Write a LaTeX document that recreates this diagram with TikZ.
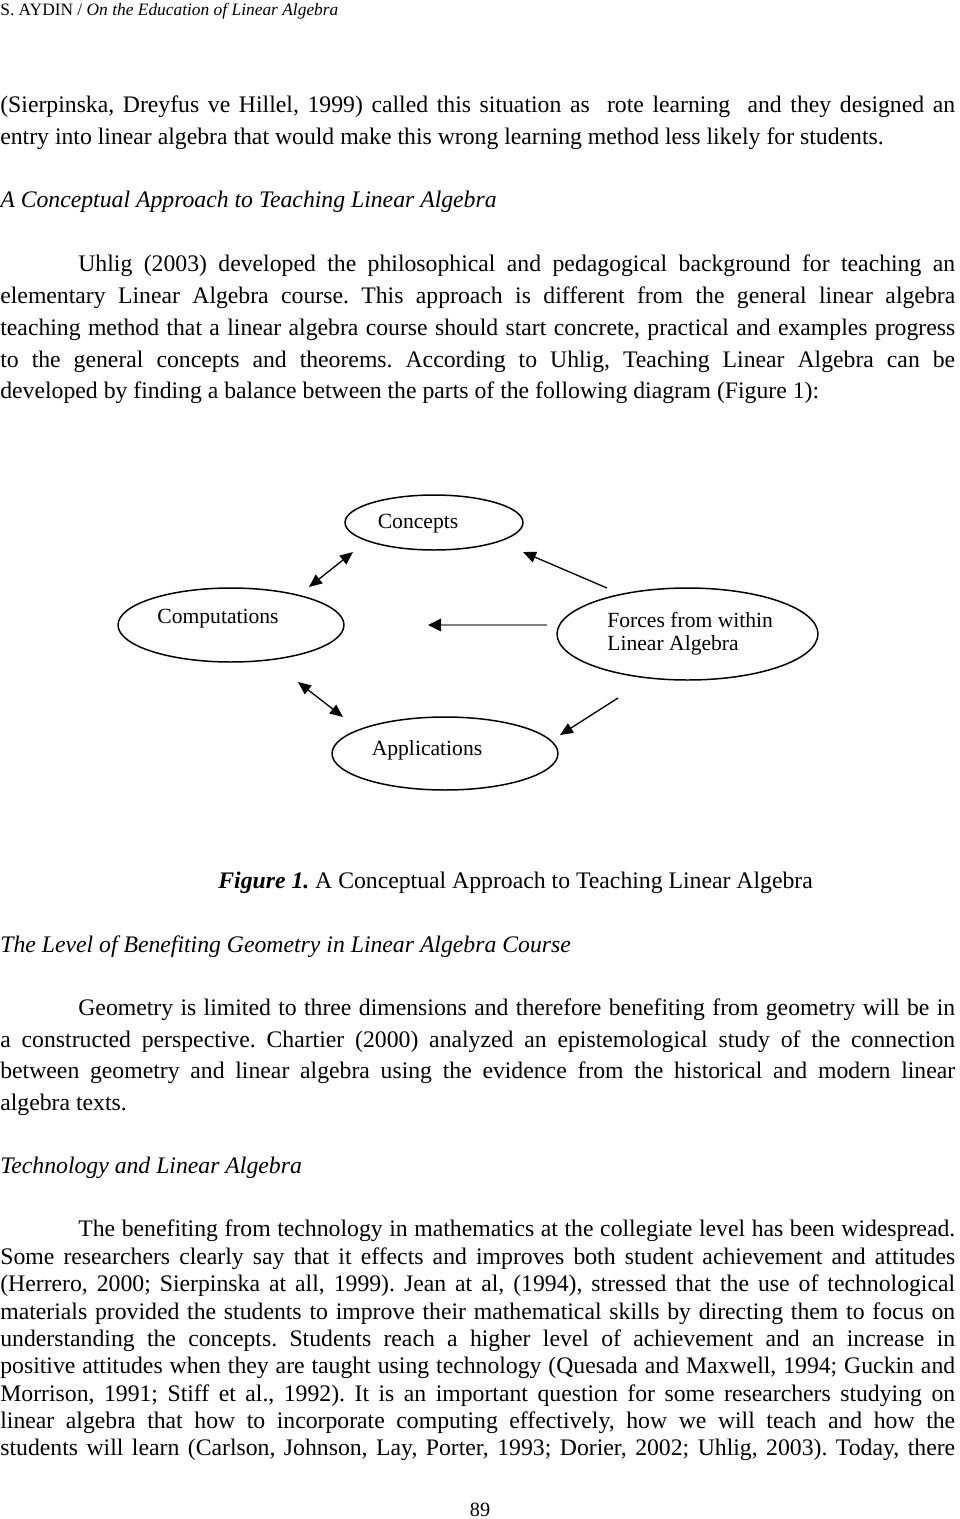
\documentclass[tikz,border=0pt]{standalone}
\usepackage{fontspec}
\setmainfont{Liberation Serif}
\usetikzlibrary{arrows.meta, shapes.geometric}
\frenchspacing

\newcommand{\fullline}[1]{\makebox[19.1cm][s]{#1}}
\newcommand{\indline}[1]{\makebox[17.54cm][s]{#1}}

\begin{document}
\begin{tikzpicture}[x=0.02cm, y=-0.02cm,
    textline/.style={anchor=base west, inner sep=0pt, font=\fontsize{13.5}{15}\selectfont},
    bubble/.style={ellipse, draw=black, line width=0.85pt, inner sep=0pt},
    bubbletext/.style={anchor=base, inner sep=0pt, font=\fontsize{12.3}{14}\selectfont},
    twoway/.style={line width=0.75pt, {Triangle[length=0.26cm, width=0.22cm]}-{Triangle[length=0.26cm, width=0.22cm]}},
    oneway/.style={line width=0.75pt, -{Triangle[length=0.26cm, width=0.22cm]}},
]
\useasboundingbox (0,0) rectangle (960,1519);

% Running head
\node[anchor=base west, inner sep=0pt, font=\fontsize{9.9}{11}\selectfont] (head) at (0,15)
    {S. AYDIN / \textit{On the Education of Linear Algebra}};

% First paragraph
\node[textline] (p1a) at (0,112) {\fullline{(Sierpinska, Dreyfus ve Hillel, 1999) called this situation as \ rote learning \ and they designed an}};
\node[textline] (p1b) at (0,144) {entry into linear algebra that would make this wrong learning method less likely for students.};

% A Conceptual Approach
\node[textline] (h1) at (0,207) {\textit{A Conceptual Approach to Teaching Linear Algebra}};
\node[textline] (p2a) at (78,271) {\indline{Uhlig (2003) developed the philosophical and pedagogical background for teaching an}};
\node[textline] (p2b) at (0,303) {\fullline{elementary Linear Algebra course. This approach is different from the general linear algebra}};
\node[textline] (p2c) at (0,335) {\fullline{teaching method that a linear algebra course should start concrete, practical and examples progress}};
\node[textline] (p2d) at (0,367) {\fullline{to the general concepts and theorems. According to Uhlig, Teaching Linear Algebra can be}};
\node[textline] (p2e) at (0,398) {developed by finding a balance between the parts of the following diagram (Figure 1):};

% Diagram
\node[bubble, minimum width=3.56cm, minimum height=1.1cm] (concepts) at (434,522.5) {};
\node[bubble, minimum width=4.52cm, minimum height=1.48cm] (computations) at (231,625) {};
\node[bubble, minimum width=5.22cm, minimum height=1.84cm] (forces) at (687.5,634) {};
\node[bubble, minimum width=4.52cm, minimum height=1.46cm] (applications) at (445,753.5) {};

\node[bubbletext] (conceptsText) at (418,528) {Concepts};
\node[bubbletext] (computationsText) at (218,623) {Computations};
\node[bubbletext] (applicationsText) at (427,755) {Applications};
\node[anchor=north west, inner sep=0pt, align=left, font=\fontsize{12.3}{13}\selectfont] (forcesText) at (607,612)
    {Forces from within\\Linear Algebra};

% arrow ends
\coordinate (ccA) at (353,552);
\coordinate (ccB) at (309,587);
\coordinate (fcA) at (607,588);
\coordinate (fcB) at (523,552);
\coordinate (fmA) at (547,625);
\coordinate (fmB) at (428,625);
\coordinate (caA) at (298,682);
\coordinate (caB) at (343,717);
\coordinate (faA) at (618,698);
\coordinate (faB) at (560,735);

\draw[twoway] (ccA) -- (ccB);
\draw[oneway] (fcA) -- (fcB);
\draw[line width=1.5pt, draw=black!50, -{Triangle[length=0.26cm, width=0.24cm, color=black]}] (fmA) -- (fmB);
\draw[twoway] (caA) -- (caB);
\draw[oneway] (faA) -- (faB);

% Caption
\node[textline] (cap) at (218,888) {\textbf{\textit{Figure 1.}} A Conceptual Approach to Teaching Linear Algebra};

% Geometry
\node[textline] (h2) at (0,952) {\textit{The Level of Benefiting Geometry in Linear Algebra Course}};
\node[textline] (p3a) at (78,1015) {\indline{Geometry is limited to three dimensions and therefore benefiting from geometry will be in}};
\node[textline] (p3b) at (0,1047) {\fullline{a constructed perspective. Chartier (2000) analyzed an epistemological study of the connection}};
\node[textline] (p3c) at (0,1078) {\fullline{between geometry and linear algebra using the evidence from the historical and modern linear}};
\node[textline] (p3d) at (0,1110) {algebra texts.};

% Technology
\node[textline] (h3) at (0,1173) {\textit{Technology and Linear Algebra}};
\node[textline] (p4a) at (78,1236) {\indline{The benefiting from technology in mathematics at the collegiate level has been widespread.}};
\node[textline] (p4b) at (0,1264) {\fullline{Some researchers clearly say that it effects and improves both student achievement and attitudes}};
\node[textline] (p4c) at (0,1291) {\fullline{(Herrero, 2000; Sierpinska at all, 1999). Jean at al, (1994), stressed that the use of technological}};
\node[textline] (p4d) at (0,1319) {\fullline{materials provided the students to improve their mathematical skills by directing them to focus on}};
\node[textline] (p4e) at (0,1346) {\fullline{understanding the concepts. Students reach a higher level of achievement and an increase in}};
\node[textline] (p4f) at (0,1373) {\fullline{positive attitudes when they are taught using technology (Quesada and Maxwell, 1994; Guckin and}};
\node[textline] (p4g) at (0,1401) {\fullline{Morrison, 1991; Stiff et al., 1992). It is an important question for some researchers studying on}};
\node[textline] (p4h) at (0,1428) {\fullline{linear algebra that how to incorporate computing effectively, how we will teach and how the}};
\node[textline] (p4i) at (0,1455) {\fullline{students will learn (Carlson, Johnson, Lay, Porter, 1993; Dorier, 2002; Uhlig, 2003). Today, there}};

% Page number
\node[anchor=base, inner sep=0pt, font=\fontsize{11.5}{13}\selectfont] (pagenum) at (480,1516) {89};

\end{tikzpicture}
\end{document}
